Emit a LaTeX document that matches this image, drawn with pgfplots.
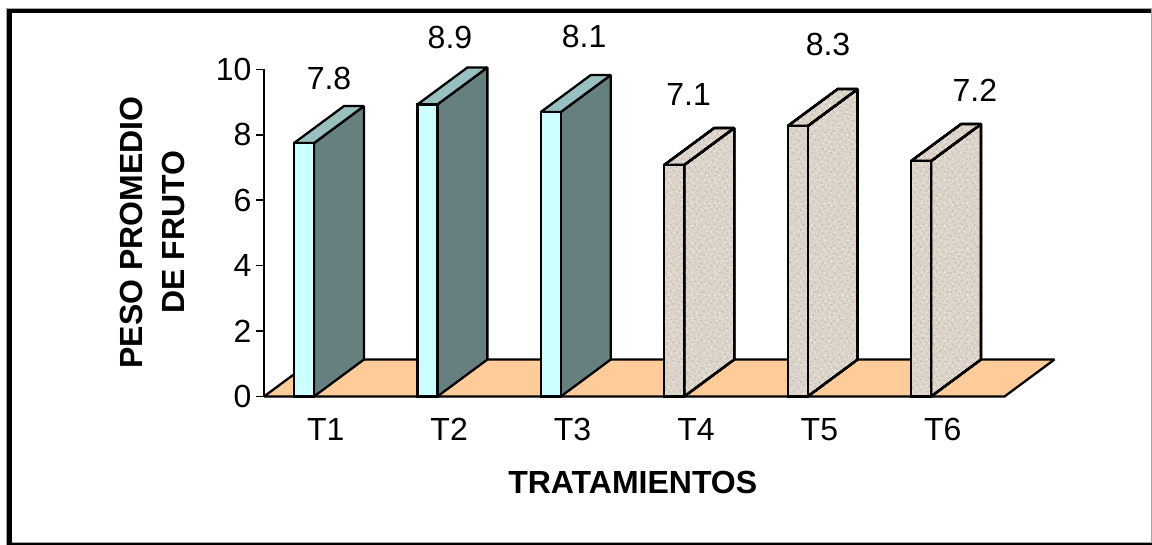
\documentclass[border=0pt]{standalone}
\usepackage{fontspec}
\setmainfont{Liberation Sans}
\usepackage{pgfplots}
\pgfplotsset{compat=1.18}
\usetikzlibrary{patterns}

\definecolor{floorc}{HTML}{FFCC99}
\definecolor{frontc}{HTML}{CCFFFF}
\definecolor{sidec}{HTML}{668080}
\definecolor{topc}{HTML}{99C0C0}
\definecolor{grainc}{HTML}{DCD4CA}
\definecolor{grainA}{HTML}{F0EAD8}
\definecolor{grainB}{HTML}{C6BCB4}
\definecolor{grainC}{HTML}{D6E2C8}

% speckle for the last three bars
\def\spk#1#2{\pgfpathrectangle{\pgfqpoint{#1pt}{#2pt}}{\pgfqpoint{1.6pt}{1.6pt}}}
\pgfdeclarepatternformonly{speckA}{\pgfqpoint{0pt}{0pt}}{\pgfqpoint{23pt}{23pt}}{\pgfqpoint{23pt}{23pt}}{%
\spk{1}{2}\spk{6}{1}\spk{11}{3}\spk{17}{1}\spk{20}{5}\spk{3}{7}\spk{9}{8}\spk{14}{7}\spk{18}{10}\spk{1}{12}
\spk{6}{13}\spk{12}{12}\spk{16}{15}\spk{21}{14}\spk{3}{17}\spk{9}{18}\spk{14}{20}\spk{19}{19}\spk{6}{21}\spk{1}{20}
\pgfusepath{fill}}
\pgfdeclarepatternformonly{speckB}{\pgfqpoint{0pt}{0pt}}{\pgfqpoint{19pt}{19pt}}{\pgfqpoint{19pt}{19pt}}{%
\spk{3}{0}\spk{9}{3}\spk{15}{1}\spk{0}{5}\spk{5}{7}\spk{12}{8}\spk{17}{6}\spk{2}{11}\spk{8}{13}\spk{14}{12}
\spk{5}{16}\spk{11}{17}\spk{17}{15}
\pgfusepath{fill}}
\pgfdeclarepatternformonly{speckC}{\pgfqpoint{0pt}{0pt}}{\pgfqpoint{29pt}{29pt}}{\pgfqpoint{29pt}{29pt}}{%
\spk{2}{4}\spk{13}{2}\spk{24}{6}\spk{7}{11}\spk{19}{13}\spk{3}{19}\spk{14}{22}\spk{25}{20}\spk{9}{26}
\pgfusepath{fill}}

\tikzset{
  face/.style={draw=black,line width=2.3pt,line join=miter,miter limit=2},
  grain/.style={face,fill=grainc,
    postaction={pattern=speckA,pattern color=grainA},
    postaction={pattern=speckB,pattern color=grainB},
    postaction={pattern=speckC,pattern color=grainC}},
  big/.style={font=\fontsize{32}{38}\selectfont},
}

% #1 category, #2 height, #3 side style, #4 top style, #5 front style
\newcommand{\solidbar}[5]{%
  \addplot[#3] coordinates {({#1-0.095},0) ({#1+0.31},1.131) ({#1+0.31},{#2+1.131}) ({#1-0.095},#2)} --cycle;
  \addplot[#4] coordinates {({#1-0.257},#2) ({#1-0.095},#2) ({#1+0.31},{#2+1.131}) ({#1+0.148},{#2+1.131})} --cycle;
  \addplot[#5] coordinates {({#1-0.257},0) ({#1-0.095},0) ({#1-0.095},#2) ({#1-0.257},#2)} --cycle;
}

\begin{document}
\begin{tikzpicture}[x=1pt,y=1pt]
\path[use as bounding box] (0,0) rectangle (1152,545);
% outer frame
\fill[gray!70] (6,0) rectangle (7,537);
\fill[gray!70] (6,536) rectangle (1152,537);
\fill[gray!70] (1151,2) rectangle (1152,537);
\fill[gray!70] (6,2) rectangle (1152,3);
\fill[black] (6.8,0) rectangle (11.7,536);
\fill[black] (6.8,531.5) rectangle (1151,536);
\fill[black] (6.8,0) rectangle (1152,2);

\begin{axis}[
    at={(264pt,148.5pt)},
    anchor=south west,
    scale only axis,
    width=740.5pt,
    height=327pt,
    xmin=0.5, xmax=6.5,
    ymin=0, ymax=10,
    clip=false,
    axis x line*=bottom,
    axis y line*=left,
    axis line style={line width=1.8pt,-},
    xtick={1,2,3,4,5,6},
    xticklabels={T1,T2,T3,T4,T5,T6},
    ytick={0,2,4,6,8,10},
    x tick style={draw=none},
    y tick style={line width=1.6pt,black},
    tick align=outside,
    major tick length=8pt,
    ticklabel style={big},
    /pgf/number format/assume math mode=true,
    xticklabel style={yshift=-10pt},
    yticklabel style={xshift=-1pt},
    xlabel={\textbf{TRATAMIENTOS}},
    xlabel style={at={(axis description cs:0.498,-0.2645)},anchor=center,big},
    ylabel={\textbf{PESO PROMEDIO}\\\textbf{DE FRUTO}},
    ylabel style={at={(axis description cs:-0.150,0.502)},anchor=center,align=center,
      font=\fontsize{32}{42}\selectfont},
]
% floor
\addplot[face,fill=floorc] coordinates {(0.5,0) (6.5,0) (6.905,1.131) (0.905,1.131)} --cycle;

% bars
\solidbar{1}{7.75}{face,fill=sidec}{face,fill=topc}{face,fill=frontc}
\solidbar{2}{8.93}{face,fill=sidec}{face,fill=topc}{face,fill=frontc}
\solidbar{3}{8.70}{face,fill=sidec}{face,fill=topc}{face,fill=frontc}
\solidbar{4}{7.08}{grain}{grain}{grain}
\solidbar{5}{8.27}{grain}{grain}{grain}
\solidbar{6}{7.20}{grain}{grain}{grain}

% value labels, as printed in the chart
\node[big] at (axis cs:1.027,9.74) {7.8};
\node[big] at (axis cs:2.007,10.98) {8.9};
\node[big] at (axis cs:3.094,11.02) {8.1};
\node[big] at (axis cs:3.94,9.25) {7.1};
\node[big] at (axis cs:5.07,10.78) {8.3};
\node[big] at (axis cs:6.26,9.37) {7.2};
\end{axis}
\end{tikzpicture}
\end{document}
